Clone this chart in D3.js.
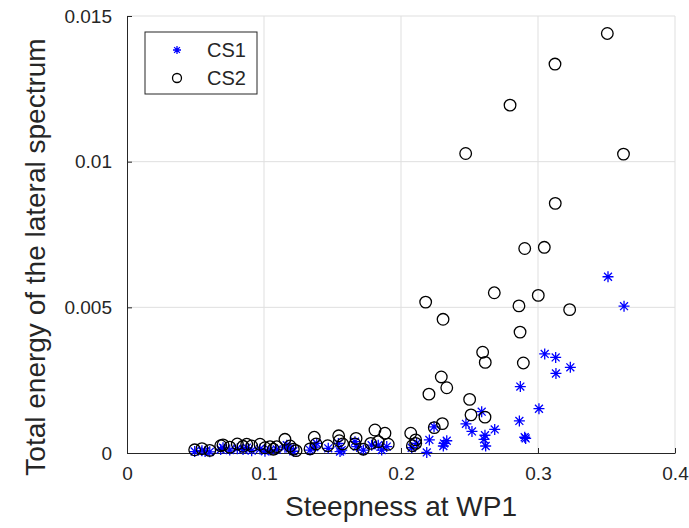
<!DOCTYPE html>
<html>
<head>
<meta charset="utf-8">
<script src="https://cdn.jsdelivr.net/npm/d3@7"></script>
<style>
    body { margin: 0; background: #fff; }
    svg text { font-family: "Liberation Sans", Arial, sans-serif; fill: #262626; }
    .grid line { stroke: #dfdfdf; stroke-width: 1; }
    .axis path, .axis line { stroke: #262626; }
    .cs1 { stroke: #0000ff; stroke-width: 1.3; }
    .cs2 { fill: none; stroke: #000; stroke-width: 1.3; }
</style>
</head>
<body>
<svg id="chart"></svg>
<script>
// steepness at WP1 / total energy
var cs1X = [0.0494, 0.0547, 0.0570, 0.0604, 0.0684, 0.0701, 0.0750, 0.0805, 0.0847, 0.0874,
    0.0910, 0.0971, 0.1007, 0.1044, 0.1093, 0.1153, 0.1166, 0.1190, 0.1214, 0.1336,
    0.1367, 0.1385, 0.1469, 0.1543, 0.1555, 0.1567, 0.1664, 0.1677, 0.1725, 0.1786,
    0.1834, 0.1859, 0.1896, 0.2078, 0.2114, 0.2188, 0.2207, 0.2241, 0.2309, 0.2314,
    0.2334, 0.2474, 0.2518, 0.2589, 0.2606, 0.2613, 0.2618, 0.2684, 0.2864, 0.2871,
    0.2903, 0.2910, 0.3007, 0.3049, 0.3129, 0.3131, 0.3236, 0.3511, 0.3628];
var cs1Y = [0.00005, 0.00008, 0.00005, 0.00004, 0.00012, 0.00018, 0.00010, 0.00015, 0.00012, 0.00018,
    0.00008, 0.00014, 0.00006, 0.00010, 0.00012, 0.00020, 0.00027, 0.00016, 0.00006, 0.00010,
    0.00020, 0.00033, 0.00016, 0.00033, 0.00005, 0.00010, 0.00039, 0.00022, 0.00010, 0.00027,
    0.00027, 0.00010, 0.00022, 0.00018, 0.00033, 0.00002, 0.00045, 0.00090, 0.00024, 0.00033,
    0.00042, 0.00100, 0.00074, 0.00142, 0.00047, 0.00061, 0.00024, 0.00081, 0.00110, 0.00228,
    0.00054, 0.00050, 0.00152, 0.00340, 0.00328, 0.00273, 0.00294, 0.00605, 0.00504];

var cs2X = [0.0494, 0.0547, 0.0604, 0.0684, 0.0701, 0.0750, 0.0805, 0.0847, 0.0874, 0.0910,
    0.0971, 0.1007, 0.1044, 0.1068, 0.1093, 0.1153, 0.1190, 0.1214, 0.1234, 0.1336,
    0.1367, 0.1380, 0.1465, 0.1545, 0.1550, 0.1574, 0.1664, 0.1672, 0.1725, 0.1779,
    0.1810, 0.1834, 0.1883, 0.1907, 0.2071, 0.2083, 0.2107, 0.2107, 0.2180, 0.2204,
    0.2243, 0.2294, 0.2302, 0.2307, 0.2334, 0.2472, 0.2501, 0.2511, 0.2596, 0.2613,
    0.2615, 0.2681, 0.2796, 0.2861, 0.2869, 0.2893, 0.2903, 0.3002, 0.3046, 0.3124,
    0.3126, 0.3231, 0.3506, 0.3624];
var cs2Y = [0.00011, 0.00015, 0.00009, 0.00025, 0.00028, 0.00020, 0.00031, 0.00023, 0.00030, 0.00024,
    0.00030, 0.00018, 0.00022, 0.00013, 0.00022, 0.00047, 0.00024, 0.00013, 0.00008, 0.00014,
    0.00054, 0.00031, 0.00025, 0.00059, 0.00042, 0.00031, 0.00031, 0.00050, 0.00013, 0.00033,
    0.00079, 0.00039, 0.00068, 0.00030, 0.00068, 0.00025, 0.00045, 0.00033, 0.00518, 0.00202,
    0.00087, 0.00261, 0.00101, 0.00459, 0.00224, 0.01028, 0.00184, 0.00131, 0.00346, 0.00123,
    0.00311, 0.00550, 0.01194, 0.00505, 0.00415, 0.00309, 0.00702, 0.00541, 0.00706, 0.01335,
    0.00857, 0.00492, 0.01440, 0.01026];

var xTicks = [0, 0.1, 0.2, 0.3, 0.4];
var yTicks = [0, 0.005, 0.01, 0.015];
var yTickLabels = ['0', '0.005', '0.01', '0.015'];
var seriesNames = ['CS1', 'CS2'];

var width = 689, height = 528;
var margin = {top: 16, right: 14, bottom: 75, left: 127};
var plotW = width - margin.left - margin.right;
var plotH = height - margin.top - margin.bottom;

var svg = d3.select('#chart')
    .attr('width', width)
    .attr('height', height);

var x = d3.scaleLinear().domain([0, 0.4]).range([0, plotW]);
var y = d3.scaleLinear().domain([0, 0.015]).range([plotH, 0]);

var g = svg.append('g')
    .attr('transform', 'translate(' + margin.left + ',' + margin.top + ')');

// grid lines
g.append('g').attr('class', 'grid')
    .selectAll('line').data(xTicks.slice(1)).enter().append('line')
    .attr('x1', d => x(d)).attr('x2', d => x(d))
    .attr('y1', 0).attr('y2', plotH);
g.append('g').attr('class', 'grid')
    .selectAll('line').data(yTicks.slice(1)).enter().append('line')
    .attr('x1', 0).attr('x2', plotW)
    .attr('y1', d => y(d)).attr('y2', d => y(d));

// axes (ticks pointing inward, like matlab)
g.append('g').attr('class', 'axis')
    .attr('transform', 'translate(0,' + plotH + ')')
    .call(d3.axisBottom(x).tickValues(xTicks).tickSize(-5).tickPadding(14)
        .tickFormat(d3.format('')).tickSizeOuter(0));
g.append('g').attr('class', 'axis')
    .call(d3.axisLeft(y).tickValues(yTicks).tickSize(-5).tickPadding(15)
        .tickFormat((d, i) => yTickLabels[i]).tickSizeOuter(0));
g.selectAll('.axis text').style('font-size', '19px').attr('fill', '#262626');

// star marker = matlab '*'
function star(sel, r) {
    var k = r * 0.72;
    var d = 'M' + (-r) + ',0H' + r + 'M0,' + (-r) + 'V' + r +
        'M' + (-k) + ',' + (-k) + 'L' + k + ',' + k + 'M' + (-k) + ',' + k + 'L' + k + ',' + (-k);
    return sel.append('path').attr('class', 'cs1').attr('d', d);
}

var pts = g.append('g');
pts.selectAll('.p1').data(cs1X).enter().append('g')
    .attr('class', 'p1')
    .attr('transform', (d, i) => 'translate(' + x(d) + ',' + y(cs1Y[i]) + ')')
    .each(function () { star(d3.select(this), 5.5); });

pts.selectAll('.p2').data(cs2X).enter().append('circle')
    .attr('class', 'cs2')
    .attr('cx', d => x(d))
    .attr('cy', (d, i) => y(cs2Y[i]))
    .attr('r', 5.8);

// axis labels
svg.append('text')
    .attr('x', margin.left + plotW / 2)
    .attr('y', 516)
    .attr('text-anchor', 'middle')
    .style('font-size', '28px')
    .text('Steepness at WP1');
svg.append('text')
    .attr('transform', 'translate(45,' + 257 + ') rotate(-90)')
    .attr('text-anchor', 'middle')
    .style('font-size', '28px')
    .text('Total energy of the lateral spectrum');

// legend
var legend = svg.append('g').attr('transform', 'translate(145,32)');
legend.append('rect')
    .attr('width', 112).attr('height', 62)
    .attr('fill', '#fff').attr('stroke', '#262626').attr('stroke-width', 1);
var item = legend.selectAll('.item').data(seriesNames).enter().append('g')
    .attr('class', 'item')
    .attr('transform', (d, i) => 'translate(0,' + (18 + i * 28) + ')');
item.each(function (d, i) {
    var s = d3.select(this);
    if (i === 0) {
        star(s.append('g').attr('transform', 'translate(32,0)'), 4);
    } else {
        s.append('circle').attr('class', 'cs2').attr('cx', 32).attr('r', 4.5);
    }
});
item.append('text')
    .attr('x', 62).attr('y', 7)
    .style('font-size', '20px')
    .attr('fill', '#000')
    .text(d => d);
</script>
</body>
</html>
